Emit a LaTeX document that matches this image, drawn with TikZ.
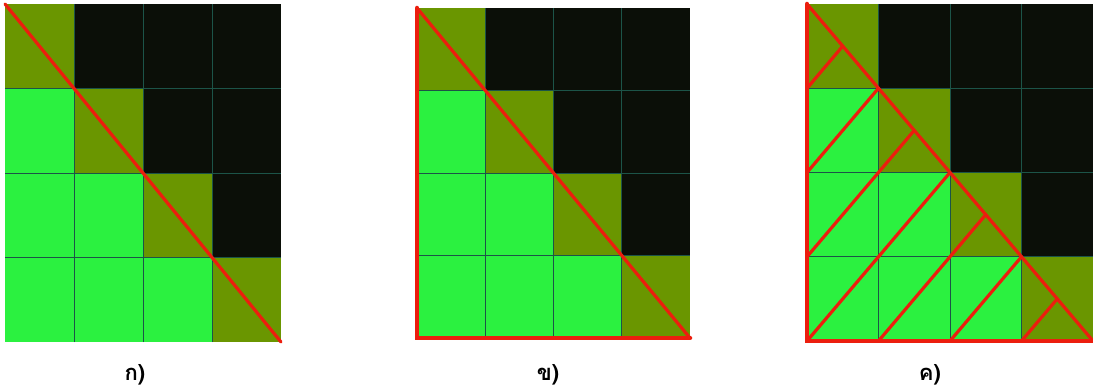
\documentclass[tikz,border=0pt]{standalone}
\usepackage{fontspec}
\newfontfamily\thaifont[Script=Thai]{Loma}
\definecolor{cellgreen}{RGB}{43,241,64}
\definecolor{cellolive}{RGB}{106,150,0}
\definecolor{celldark}{RGB}{11,15,8}
\definecolor{gridteal}{RGB}{28,84,72}
\definecolor{cutred}{RGB}{236,30,14}

\begin{document}
\begin{tikzpicture}[x=1pt,y=1pt,
    redline/.style={cutred,line width=3.2pt,line cap=round},
    rededge/.style={cutred,line width=4.5pt,line cap=round},
    gridline/.style={gridteal,line width=0.7pt},
    caption/.style={font=\thaifont\bfseries\fontsize{22}{25}\selectfont,anchor=base,inner sep=0pt}]
  \useasboundingbox (0,0) rectangle (1093,389);
  % three panels: left edge, bottom, cell width, cell height, panel number
  \foreach \px/\py/\cw/\ch/\n in {5/47/69/84.5/1,417/51/68.25/82.5/2,807/48/71.5/84.25/3}{
    \begin{scope}[xshift=\px pt,yshift=\py pt,x=\cw pt,y=\ch pt]
      \foreach \i/\j in {0/0,1/0,2/0,0/1,1/1,0/2}
      \fill[cellgreen] (\i,\j) rectangle ++(1,1);
      \foreach \i in {0,...,3}
      \fill[cellolive] (\i,3-\i) rectangle ++(1,1);
      \foreach \i/\j in {3/1,2/2,3/2,1/3,2/3,3/3}
      \fill[celldark] (\i,\j) rectangle ++(1,1);
      \foreach \k in {1,2,3}{
        \draw[gridline] (\k,0) -- (\k,4);
        \draw[gridline] (0,\k) -- (4,\k);
      }
      \ifnum\n>1
        \draw[rededge] (0,4) -- (0,0) -- (4,0);
      \fi
      \ifnum\n=3
        \foreach \c in {-3,...,3}
        \draw[redline] ({max(0,-\c)},{max(0,\c)}) -- ({(4-\c)/2},{(4+\c)/2});
      \fi
      \draw[redline] (0,4) -- (4,0);
    \end{scope}
  }
  \node[caption] (labA) at (135,9) {ก)};
  \node[caption] (labB) at (548,9) {ข)};
  \node[caption] (labC) at (930,9) {ค)};
\end{tikzpicture}
\end{document}
